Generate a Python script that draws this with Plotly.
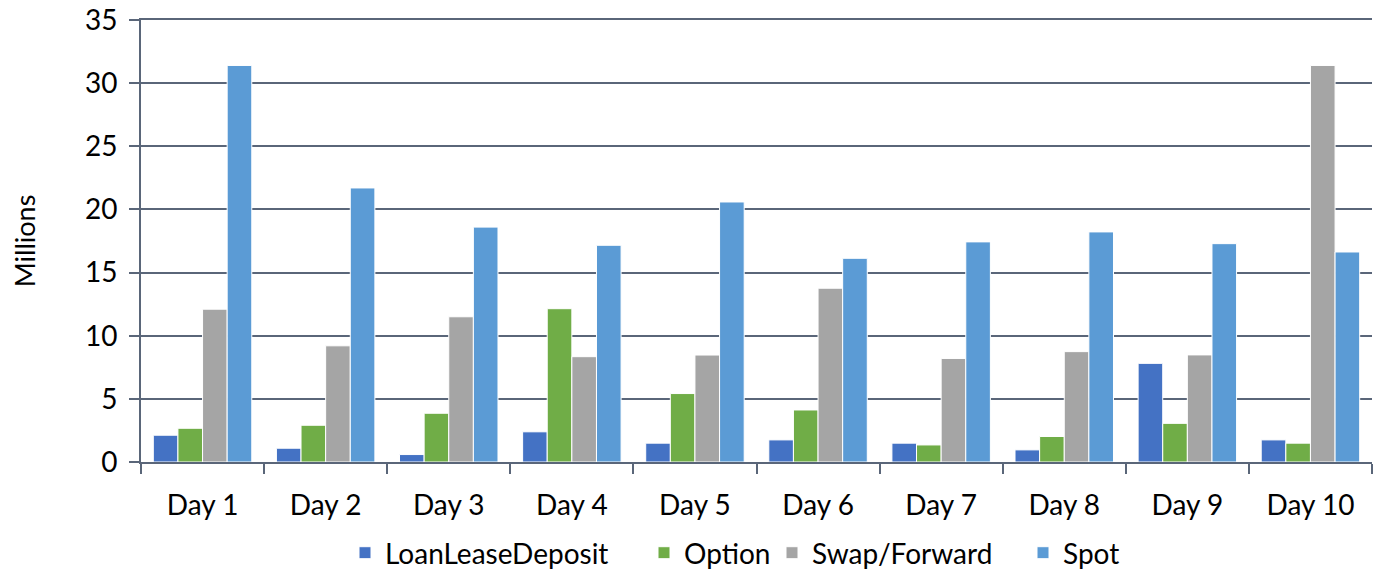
import plotly.graph_objects as go

categories = ["Day 1", "Day 2", "Day 3", "Day 4", "Day 5", "Day 6", "Day 7", "Day 8", "Day 9", "Day 10"]
loan_lease_deposit = [2.12, 1.09, 0.59, 2.39, 1.49, 1.75, 1.49, 0.96, 7.81, 1.75]
option = [2.67, 2.91, 3.86, 12.14, 5.42, 4.12, 1.35, 2.02, 3.06, 1.49]
swap_forward = [12.1, 9.2, 11.5, 8.34, 8.47, 13.76, 8.2, 8.74, 8.48, 31.4]
spot = [31.4, 21.7, 18.6, 17.16, 20.59, 16.13, 17.43, 18.22, 17.29, 16.63]

series_names = ["LoanLeaseDeposit", "Option", "Swap/Forward", "Spot"]
series_values = [loan_lease_deposit, option, swap_forward, spot]
colors = ["#4472C4", "#70AD47", "#A5A5A5", "#5B9BD5"]

W, H = 1373, 571
L, R, T, B = 141, 1, 20, 109
PW = W - L - R
PH = H - T - B

FONT = "Lato"
FS = 28
AX = "#5a6679"

fig = go.Figure()
legend_left_px = [345, 644, 772, 1023]
legend_names = ["legend", "legend2", "legend3", "legend4"]
for name, vals, col, lg in zip(series_names, series_values, colors, legend_names):
    fig.add_trace(go.Bar(
        x=categories, y=vals, name=name,
        marker=dict(color=col, line=dict(color="white", width=1)),
        legend=lg,
    ))

layout_legends = {}
for lg, px in zip(legend_names, legend_left_px):
    layout_legends[lg] = dict(
        x=(px - L) / PW, xanchor="left", y=-(553 - (H - B)) / PH, yanchor="middle",
        orientation="h", bgcolor="rgba(0,0,0,0)", borderwidth=0,
        font=dict(family=FONT, size=FS, color="#000000"),
    )

fig.update_layout(
    width=W, height=H,
    margin=dict(l=L, r=R, t=T, b=B, autoexpand=False),
    paper_bgcolor="white", plot_bgcolor="white",
    barmode="group", bargap=0.2, bargroupgap=0,
    font=dict(family=FONT, size=FS, color="#000000"),
    showlegend=True,
    **layout_legends,
)

fig.update_xaxes(
    type="category", showgrid=False, showline=True, linecolor=AX, linewidth=2,
    mirror=True,
    ticks="outside", tickson="boundaries", ticklen=10, tickwidth=2, tickcolor=AX,
    tickfont=dict(family=FONT, size=FS, color="#000000"),
    ticklabelstandoff=17,
    automargin=False,
)
fig.update_yaxes(
    range=[0, 35], dtick=5, tick0=0,
    showgrid=True, gridcolor=AX, gridwidth=2,
    showline=True, linecolor=AX, linewidth=2,
    ticks="outside", ticklen=10, tickwidth=2, tickcolor=AX,
    tickfont=dict(family=FONT, size=FS, color="#000000"),
    ticklabelstandoff=6, ticklabeloverflow="allow",
    zeroline=False, automargin=False,
    title=dict(text="Millions", font=dict(family=FONT, size=FS - 1, color="#000000"), standoff=41),
)

fig.write_html(
    "out.html",
    config={"displayModeBar": False},
    post_script="document.body.style.margin='0';",
)
